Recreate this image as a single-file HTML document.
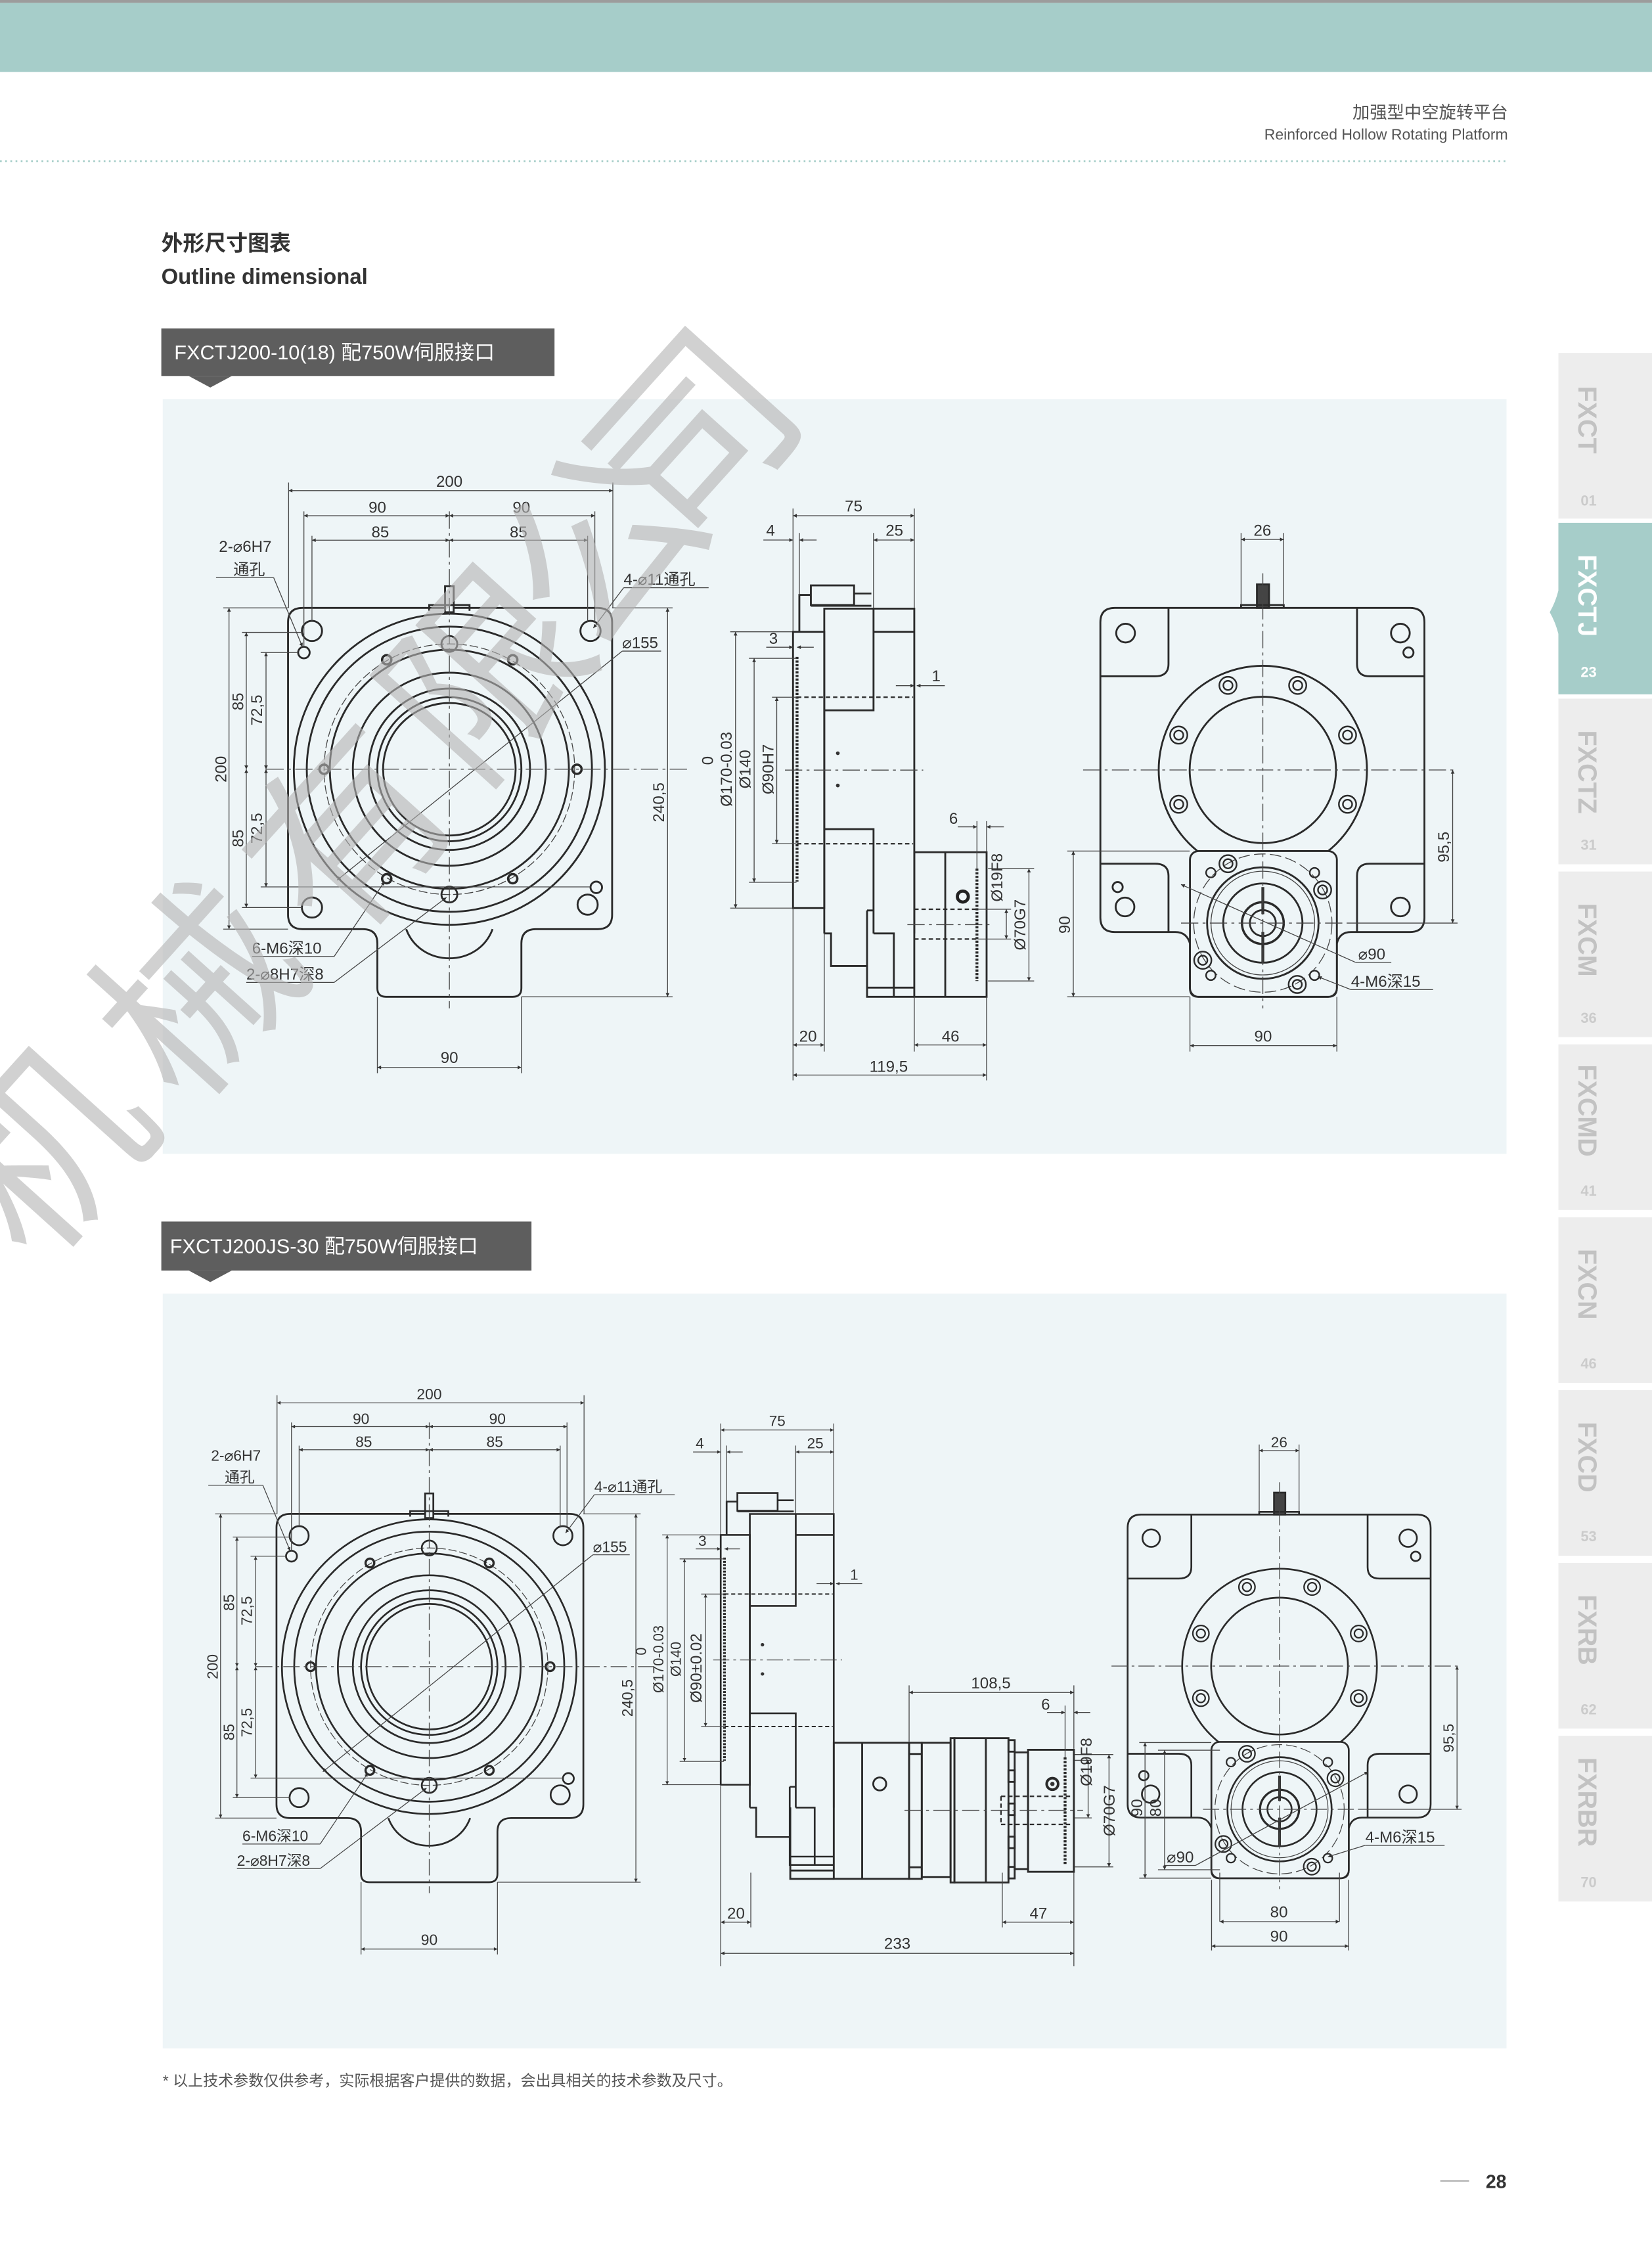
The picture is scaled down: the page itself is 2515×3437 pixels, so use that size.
<!DOCTYPE html>
<html><head><meta charset="utf-8"><style>
html,body{margin:0;padding:0;background:#fff}
svg{display:block}
.o{stroke:#2a2a2a;stroke-width:1.3;fill:none}
.f{stroke:#2a2a2a;stroke-width:1.3;fill:#eef5f7}
.t{stroke:#454545;stroke-width:0.6;fill:none}
.d{stroke:#454545;stroke-width:0.6;fill:none;marker-start:url(#a);marker-end:url(#a)}
.e{stroke:#454545;stroke-width:0.6;fill:none;marker-end:url(#a)}
.c{stroke:#454545;stroke-width:0.6;fill:none;stroke-dasharray:12 3 2 3}
.h{stroke:#2a2a2a;stroke-width:1;fill:none;stroke-dasharray:3 2}
.hb{stroke:#2a2a2a;stroke-width:2;fill:none;stroke-dasharray:1.5 1}
text{font-family:"Liberation Sans","Noto Sans CJK SC",sans-serif}
.l{font-size:11px;fill:#333}
.m{text-anchor:middle}
</style></head><body>
<svg width="2515" height="3437" viewBox="0 0 1147 1567.5" xmlns="http://www.w3.org/2000/svg">
<defs>
<marker id="a" viewBox="0 0 10 10" refX="10" refY="5" markerUnits="userSpaceOnUse" markerWidth="6" markerHeight="2.6" orient="auto-start-reverse"><path d="M0,0 L10,5 L0,10 z" fill="#333"/></marker>
</defs>
<rect x="0" y="0" width="1147" height="1567.5" fill="#fff"/>
<rect x="0" y="0" width="1147" height="2" fill="#9c9c9c"/>
<rect x="0" y="2" width="1147" height="48" fill="#a6cdc9"/>
<text x="1047" y="82" font-size="12" fill="#555" text-anchor="end">加强型中空旋转平台</text>
<text x="1047" y="97" font-size="10.5" fill="#555" text-anchor="end">Reinforced Hollow Rotating Platform</text>
<line x1="0" y1="112" x2="1047" y2="112" stroke="#a8cfca" stroke-width="1.3" stroke-dasharray="1.2 2.4"/>
<text x="112" y="174" font-size="15" fill="#333" font-weight="bold">外形尺寸图表</text>
<text x="112" y="197" font-size="15" fill="#333" font-weight="bold">Outline dimensional</text>

<rect x="112" y="228" width="273" height="33" fill="#5e5e5e"/>
<path d="M131,261 L161,261 L146,269 Z" fill="#5e5e5e"/>
<text x="121" y="249.5" font-size="14" fill="#fff">FXCTJ200-10(18) 配750W伺服接口</text>
<rect x="113" y="277" width="933" height="524" fill="#eef5f7"/>

<rect x="112" y="848" width="257" height="34" fill="#5e5e5e"/>
<path d="M131,882 L161,882 L146,890 Z" fill="#5e5e5e"/>
<text x="118" y="870" font-size="14" fill="#fff">FXCTJ200JS-30 配750W伺服接口</text>
<rect x="113" y="898" width="933" height="524" fill="#eef5f7"/>

<g id="tv">
<path class="o" d="M210,422 H415 Q425,422 425,432 V635 Q425,645 415,645 H372 Q362,645 362,655 V686 Q362,692 356,692 H268 Q262,692 262,686 V655 Q262,645 252,645 H210 Q200,645 200,635 V432 Q200,422 210,422 Z"/>
<path class="o" d="M282,645 C292,672 332,672 342,645"/>
<circle class="o" cx="312" cy="534" r="108"/>
<circle class="o" cx="312" cy="534" r="99"/>
<circle class="c" cx="312" cy="534" r="87" style="stroke-dasharray:6 2"/>
<circle class="o" cx="312" cy="534" r="83"/>
<circle class="o" cx="312" cy="534" r="67"/>
<circle class="o" cx="312" cy="534" r="56"/>
<circle class="o" cx="312" cy="534" r="50"/>
<circle class="o" cx="312" cy="534" r="46"/>
<circle class="o" cx="216.6" cy="438" r="7"/><circle class="o" cx="410" cy="438" r="7"/>
<circle class="o" cx="216.6" cy="630" r="7"/><circle class="o" cx="408" cy="628" r="7"/>
<circle class="o" cx="211" cy="453" r="4"/><circle class="o" cx="414" cy="616" r="4"/>
<g class="o" style="stroke-width:1.6">
<circle cx="268.5" cy="458" r="3.2"/><circle cx="356" cy="458" r="3.2"/><circle cx="225" cy="534" r="3.2"/><circle cx="400.6" cy="534" r="3.2"/><circle cx="268.5" cy="610" r="3.2"/><circle cx="356" cy="610" r="3.2"/>
</g>
<circle class="o" cx="312" cy="447" r="5.5"/><circle class="o" cx="312" cy="621" r="5.5"/>
<rect class="o" x="309" y="407" width="6" height="18" style="fill:#eef5f7"/>
<path class="o" d="M298,424 V420 H326 V424"/>
<line class="c" x1="185" y1="534" x2="477" y2="534"/>
<line class="c" x1="312" y1="355" x2="312" y2="700"/>
<path class="t" d="M200.4,335 V422 M425.5,335 V422 M211,355 V449 M216.6,372 V431 M413,355 V432 M408,372 V432"/>
<line class="d" x1="200.4" y1="340.6" x2="425.5" y2="340.6"/>
<line class="d" x1="211" y1="358" x2="312" y2="358"/><line class="d" x1="312" y1="358" x2="413" y2="358"/>
<line class="d" x1="216.6" y1="375" x2="312" y2="375"/><line class="d" x1="312" y1="375" x2="408" y2="375"/>
<text class="l m" x="312" y="338">200</text>
<text class="l m" x="262" y="356">90</text><text class="l m" x="362" y="356">90</text>
<text class="l m" x="264" y="373">85</text><text class="l m" x="360" y="373">85</text>
<path class="t" d="M155,422 H200 M155,645 H200 M168,439 H210 M168,630 H210 M181,453 H207 M181,615.7 H410 M425,422 H467 M362,692 H467"/>
<line class="d" x1="159" y1="422" x2="159" y2="645"/>
<line class="d" x1="171" y1="439" x2="171" y2="534"/><line class="d" x1="171" y1="534" x2="171" y2="630"/>
<line class="d" x1="184.7" y1="453" x2="184.7" y2="534"/><line class="d" x1="184.7" y1="534" x2="184.7" y2="615.7"/>
<line class="d" x1="463.5" y1="422" x2="463.5" y2="692"/>
<text class="l m" transform="translate(157,534) rotate(-90)">200</text>
<text class="l m" transform="translate(169,487) rotate(-90)">85</text>
<text class="l m" transform="translate(169,582) rotate(-90)">85</text>
<text class="l m" transform="translate(182,493) rotate(-90)">72,5</text>
<text class="l m" transform="translate(182,575) rotate(-90)">72,5</text>
<text class="l m" transform="translate(461,557) rotate(-90)">240,5</text>
<path class="t" d="M262,692 V745 M362,692 V745"/>
<line class="d" x1="262" y1="741" x2="362" y2="741"/>
<text class="l m" x="312" y="738">90</text>
<text class="l" x="152" y="383">2-⌀6H7</text>
<text class="l" x="162" y="399">通孔</text>
<path class="t" d="M150,401 H190"/><line class="e" x1="190" y1="401" x2="210" y2="449"/>
<text class="l" x="433" y="406">4-⌀11通孔</text>
<path class="t" d="M433,408 H492"/><line class="e" x1="433" y1="408" x2="412" y2="436"/>
<text class="l" x="432" y="450">⌀155</text>
<path class="t" d="M432,452 H459"/><line class="e" x1="432" y1="452" x2="234" y2="611"/>
<text class="l" x="175" y="662">6-M6深10</text>
<path class="t" d="M175,664 H232"/><line class="e" x1="232" y1="664" x2="267" y2="612"/>
<text class="l" x="171" y="680">2-⌀8H7深8</text>
<path class="t" d="M171,682 H232"/><line class="e" x1="232" y1="682" x2="310" y2="623"/>
</g>

<g id="sb">
<rect class="o" x="550.6" y="438.6" width="21.7" height="191.8"/>
<path class="o" d="M572.3,648 V422.5 H634.8 V648"/>
<path class="o" d="M606.5,422.5 V493.1 H572.3 M606.5,438.6 H634.8 M572.3,575.6 H606.5 V648 M572.3,648 H577 V670.6 H602 M602,632 H606.5 M602,632 V692 H634.8 M606.5,648 H620.6 V692 M602,685.6 H634.8"/>
<path class="o" d="M555,438.6 V413 H563 M563,406.4 H593 V420 H563 Z M593,412 H605 M563,420.5 H605"/>
<path class="h" d="M553.4,484 H634 M553.4,585.7 H634"/>
<line class="hb" x1="553.4" y1="456" x2="553.4" y2="612"/>
<line class="c" x1="545" y1="534.6" x2="641" y2="534.6"/>
<circle cx="581.7" cy="522.9" r="1.3" fill="#333"/><circle cx="581.7" cy="545.3" r="1.3" fill="#333"/>
<path class="t" d="M550.6,353 V438 M634.8,353 V422 M555,370 V413 M606.5,370 V422 M507,438.6 H550 M520,457 H553 M536,484 H553 M520,612.5 H553 M536,585.7 H553 M507,630.4 H550"/>
<line class="d" x1="550.6" y1="358" x2="634.8" y2="358"/>
<line class="e" x1="530" y1="374.9" x2="550.6" y2="374.9"/><line class="e" x1="567" y1="374.9" x2="555" y2="374.9"/>
<line class="d" x1="606.5" y1="374.9" x2="634.8" y2="374.9"/>
<line class="e" x1="532" y1="449.3" x2="550.6" y2="449.3"/><line class="e" x1="565" y1="449.3" x2="553.4" y2="449.3"/>
<line class="e" x1="622" y1="476" x2="634.8" y2="476"/><line class="e" x1="656" y1="476" x2="636.5" y2="476"/>
<line class="d" x1="510.7" y1="438.6" x2="510.7" y2="630.4"/>
<line class="d" x1="523.6" y1="457" x2="523.6" y2="612.5"/>
<line class="d" x1="539.3" y1="484" x2="539.3" y2="585.7"/>
<text class="l m" x="592.7" y="355">75</text>
<text class="l m" x="535" y="372">4</text>
<text class="l m" x="621" y="372">25</text>
<text class="l m" x="537" y="447">3</text>
<text class="l m" x="650" y="473">1</text>
<text class="l m" transform="translate(508,534) rotate(-90)">Ø170-0.03</text>
<text class="l m" transform="translate(495,528) rotate(-90)">0</text>
<text class="l m" transform="translate(521,534) rotate(-90)">Ø140</text>
</g>
<text class="l m" transform="translate(537,534) rotate(-90)">Ø90H7</text>
<rect class="o" x="634.8" y="591.6" width="50.2" height="100.4"/>
<line class="o" x1="656.3" y1="591.6" x2="656.3" y2="692"/>
<line class="hb" x1="678.3" y1="603" x2="678.3" y2="681"/>
<path class="h" d="M634.8,631.2 H678 M634.8,651.9 H678"/>
<line class="c" x1="630" y1="641.9" x2="690" y2="641.9"/>
<circle cx="668.5" cy="622.4" r="3.8" fill="none" stroke="#222" stroke-width="2.2"/>
<path class="t" d="M550.6,630 V750 M572.3,648 V730 M678.3,570 V603 M685,570 V591 M679,631.2 H702 M679,651.9 H702 M686,603 H718 M686,681 H718 M634.8,692 V730 M685,692 V750"/>
<line class="e" x1="665" y1="574" x2="678.3" y2="574"/><line class="e" x1="697" y1="574" x2="685" y2="574"/>
<text class="l m" x="662" y="572">6</text>
<line class="d" x1="698.7" y1="631.2" x2="698.7" y2="651.9"/>
<text class="l" transform="translate(696,626) rotate(-90)">Ø19F8</text>
<line class="d" x1="714.4" y1="603" x2="714.4" y2="681"/>
<text class="l m" transform="translate(712,642) rotate(-90)">Ø70G7</text>
<line class="d" x1="550.6" y1="725.4" x2="572.3" y2="725.4"/>
<text class="l m" x="561" y="723">20</text>
<line class="d" x1="634.8" y1="725.4" x2="685" y2="725.4"/>
<text class="l m" x="660" y="723">46</text>
<line class="d" x1="550.6" y1="746.3" x2="685" y2="746.3"/>
<text class="l m" x="617" y="744">119,5</text>

<g id="rv">
<path class="o" d="M774,422 H979 Q989,422 989,432 V637 Q989,647 979,647 H938 Q930,647 928.2,655 V686 Q928.2,692 922,692 H832 Q826.2,692 826.2,686 V655 Q824,647 816,647 H774 Q764,647 764,637 V432 Q764,422 774,422 Z"/>
<path class="o" d="M811.3,422 V461 Q811.3,469.5 802,469.5 H764 M942.2,422 V461 Q942.2,469.5 951,469.5 H989 M764,599.6 H802 Q811.3,599.6 811.3,608 V647 M989,599.6 H951 Q942.2,599.6 942.2,608 V647"/>
<circle class="o" cx="781.5" cy="439.5" r="6.5"/><circle class="o" cx="972.3" cy="439.5" r="6.5"/>
<circle class="o" cx="977.9" cy="453" r="3.5"/><circle class="o" cx="776" cy="615.8" r="3.5"/>
<circle class="o" cx="781.1" cy="629.6" r="6.5"/><circle class="o" cx="972.3" cy="629.6" r="6.5"/>
<circle class="o" cx="876.8" cy="534.5" r="72.3"/>
<circle class="o" cx="876.8" cy="534.5" r="50.8"/>
<g class="o" style="stroke-width:1.1">
<circle cx="852.6" cy="475.8" r="6"/><circle cx="852.6" cy="475.8" r="3.2"/>
<circle cx="901" cy="475.8" r="6"/><circle cx="901" cy="475.8" r="3.2"/>
<circle cx="818.4" cy="510.3" r="6"/><circle cx="818.4" cy="510.3" r="3.2"/>
<circle cx="935.6" cy="510.3" r="6"/><circle cx="935.6" cy="510.3" r="3.2"/>
<circle cx="818.4" cy="558.3" r="6"/><circle cx="818.4" cy="558.3" r="3.2"/>
<circle cx="935.6" cy="558.3" r="6"/><circle cx="935.6" cy="558.3" r="3.2"/>
</g>
<rect class="f" x="826.2" y="590.8" width="102" height="101.2" rx="6"/>
<circle class="t" cx="876.8" cy="640.8" r="48" style="stroke-dasharray:8 3"/>
<circle class="o" cx="876.8" cy="640.8" r="38.7"/>
<circle class="t" cx="876.8" cy="640.8" r="36"/>
<circle class="o" cx="876.8" cy="640.8" r="27.5"/>
<circle class="o" cx="876.8" cy="640.8" r="14.5" style="stroke-width:1.6"/>
<circle class="o" cx="876.8" cy="640.8" r="9"/>
<rect x="875.8" y="615.8" width="2" height="18.8" fill="#333"/><rect x="875.8" y="647" width="2" height="21.4" fill="#333"/>
<g class="o" style="stroke-width:1.1">
<circle cx="852.6" cy="599.6" r="6"/><circle cx="852.6" cy="599.6" r="3.2"/>
<circle cx="918.3" cy="617.8" r="6"/><circle cx="918.3" cy="617.8" r="3.2"/>
<circle cx="835.1" cy="666.6" r="6"/><circle cx="835.1" cy="666.6" r="3.2"/>
<circle cx="900.7" cy="683.4" r="6"/><circle cx="900.7" cy="683.4" r="3.2"/>
<circle cx="840.7" cy="605.8" r="3.3"/><circle cx="912.7" cy="605.8" r="3.3"/>
<circle cx="840.7" cy="677.1" r="3.3"/><circle cx="912.7" cy="677.1" r="3.3"/>
</g>
<rect class="o" x="872.7" y="405.7" width="8.4" height="16.3" style="fill:#444"/>
<path class="o" d="M861.7,422 V420 H891.3 V422"/>
<line class="c" x1="876.8" y1="398" x2="876.8" y2="700"/>
<line class="c" x1="752" y1="534.5" x2="1010" y2="534.5"/>
<line class="c" x1="820" y1="640.8" x2="935" y2="640.8"/>
<path class="t" d="M861.7,370 V420 M891.3,370 V420 M935,640.8 H1012"/>
<line class="d" x1="861.7" y1="374.5" x2="891.3" y2="374.5"/>
<text class="l m" x="876.5" y="372">26</text>
<line class="d" x1="1008.6" y1="534.5" x2="1008.6" y2="640.8"/>
<text class="l m" transform="translate(1006,588) rotate(-90)">95,5</text>
</g>
<path class="t" d="M741,590.8 H826 M741,692 H826 M826.2,692 V730 M928.2,692 V730"/>
<line class="d" x1="745.2" y1="590.8" x2="745.2" y2="692"/>
<text class="l m" transform="translate(743,642) rotate(-90)">90</text>
<line class="d" x1="826.2" y1="725.9" x2="928.2" y2="725.9"/>
<text class="l m" x="877" y="723">90</text>
<text class="l" x="943" y="666">⌀90</text>
<path class="t" d="M941,668 H966"/><line class="e" x1="941" y1="668" x2="820" y2="614"/>
<text class="l" x="938" y="685">4-M6深15</text>
<path class="t" d="M938,687 H995"/><line class="e" x1="938" y1="687" x2="915" y2="678"/>

<use href="#tv" transform="translate(298.5,1157) scale(0.947) translate(-312.5,-534)"/>
<use href="#sb" transform="translate(500.4,1051) scale(0.932,0.904) translate(-550.6,-422.5)"/>
<text class="l m" transform="translate(487,1158) rotate(-90)">Ø90±0.02</text>
<rect class="o" x="578.9" y="1209.8" width="52.3" height="94.5"/>
<line class="o" x1="598.6" y1="1209.8" x2="598.6" y2="1304.3"/>
<path class="o" d="M548.7,1254.7 V1304.3 H578.9 M548.7,1298.5 H578.9"/>
<rect class="o" x="631.2" y="1209.8" width="8.8" height="94.5"/>
<path class="o" d="M631.2,1217.6 H640 M631.2,1296.3 H640"/>
<rect class="o" x="640" y="1209.8" width="20" height="93.3"/>
<rect class="o" x="660" y="1206.6" width="2.7" height="100.2"/>
<rect class="o" x="662.7" y="1206.6" width="37.5" height="100.2"/>
<line class="o" x1="684.5" y1="1206.6" x2="684.5" y2="1306.8"/>
<g class="o"><rect x="700.2" y="1208" width="4.3" height="8"/><rect x="700.2" y="1229" width="4.3" height="8"/><rect x="700.2" y="1252" width="4.3" height="8"/><rect x="700.2" y="1275" width="4.3" height="8"/><rect x="700.2" y="1296" width="4.3" height="8"/></g>
<rect class="o" x="704.5" y="1216.5" width="9.3" height="81"/>
<rect class="o" x="713.8" y="1214.7" width="31.8" height="84.7"/>
<line class="hb" x1="739.5" y1="1220" x2="739.5" y2="1295"/>
<path class="h" d="M695,1247 H745 M695,1266.5 H745 M695,1247 V1266.5"/>
<circle class="o" cx="610.8" cy="1238.4" r="4.5"/>
<circle class="o" cx="730.7" cy="1238.4" r="4" style="stroke-width:1.8"/><circle cx="730.7" cy="1238.4" r="1.5" fill="#333"/>
<line class="c" x1="628" y1="1256.7" x2="752" y2="1256.7"/>
<path class="t" d="M631.2,1170 V1209 M745.6,1170 V1214 M739.5,1184 V1220 M500.4,1240 V1365 M521.3,1300 V1338 M695.9,1300 V1338 M745.6,1300 V1365 M746,1222 H758 M746,1262 H758 M746,1218 H773 M746,1296 H773"/>
<line class="d" x1="631.2" y1="1174.9" x2="745.6" y2="1174.9"/>
<text class="l m" x="688" y="1172">108,5</text>
<line class="e" x1="727" y1="1188.8" x2="739.5" y2="1188.8"/><line class="e" x1="757" y1="1188.8" x2="745.6" y2="1188.8"/>
<text class="l m" x="726" y="1187">6</text>
<line class="d" x1="755.5" y1="1222" x2="755.5" y2="1262"/>
<text class="l" transform="translate(758,1240) rotate(-90)">Ø19F8</text>
<line class="d" x1="770" y1="1218" x2="770" y2="1296"/>
<text class="l m" transform="translate(774,1257) rotate(-90)">Ø70G7</text>
<line class="d" x1="500.4" y1="1334.4" x2="521.3" y2="1334.4"/>
<text class="l m" x="511" y="1332">20</text>
<line class="d" x1="695.9" y1="1334.4" x2="745.6" y2="1334.4"/>
<text class="l m" x="721" y="1332">47</text>
<line class="d" x1="500.4" y1="1356" x2="745.6" y2="1356"/>
<text class="l m" x="623" y="1353">233</text>
<use href="#rv" transform="translate(888.4,1156.6) scale(0.935) translate(-876.8,-534.5)"/>
<path class="t" d="M791,1209.7 H841 M804,1215 H847 M791,1303.8 H841 M804,1298 H847 M841.2,1305 V1354 M936.4,1305 V1354 M846.9,1300 V1334 M930,1300 V1334"/>
<line class="d" x1="795" y1="1209.7" x2="795" y2="1303.8"/>
<line class="d" x1="808.6" y1="1215" x2="808.6" y2="1298"/>
<text class="l m" transform="translate(793,1255) rotate(-90)">90</text>
<text class="l m" transform="translate(806,1255) rotate(-90)">80</text>
<line class="d" x1="846.9" y1="1334" x2="930" y2="1334"/>
<text class="l m" x="888" y="1331">80</text>
<line class="d" x1="841.2" y1="1351" x2="936.4" y2="1351"/>
<text class="l m" x="888" y="1348">90</text>
<text class="l" x="810" y="1293">⌀90</text>
<path class="t" d="M808,1295 H830"/><line class="e" x1="830" y1="1295" x2="950" y2="1230"/>
<text class="l" x="948" y="1279">4-M6深15</text>
<path class="t" d="M948,1281 H1003"/><line class="e" x1="948" y1="1281" x2="922" y2="1289"/>

<g fill="#b4b4b4" opacity="0.6" font-size="135" text-anchor="middle" font-family="Noto Sans CJK SC, sans-serif">
<text transform="translate(35,800) rotate(-48)" dy="45">机</text>
<text transform="translate(140,690) rotate(-48)" dy="45">械</text>
<text transform="translate(245,580) rotate(-48)" dy="45">有</text>
<text transform="translate(340,470) rotate(-48)" dy="45">限</text>
<text transform="translate(420,380) rotate(-48)" dy="45">公</text>
<text transform="translate(485,305) rotate(-48)" dy="45">司</text>
</g>

<text x="113" y="1448" font-size="10.5" fill="#555">*  以上技术参数仅供参考，实际根据客户提供的数据，会出具相关的技术参数及尺寸。</text>
<line x1="1000" y1="1514" x2="1020" y2="1514" stroke="#999" stroke-width="0.8"/>
<text x="1046" y="1519" font-size="13" font-weight="bold" fill="#333" text-anchor="end">28</text>

<g font-family="Liberation Sans, sans-serif" font-weight="bold">
<rect x="1082" y="245" width="65" height="115" fill="#ededed"/>
<text transform="translate(1096,268) rotate(90)" font-size="18" fill="#c2c2c2">FXCT</text>
<text x="1103" y="351" font-size="10" fill="#cbcbcb" text-anchor="middle">01</text>
<path d="M1082,363 H1147 V482 H1082 V440 Q1080,432 1076,425 Q1080,418 1082,410 Z" fill="#a6cdc9"/>
<text transform="translate(1096,385) rotate(90)" font-size="18" fill="#fff">FXCTJ</text>
<text x="1103" y="470" font-size="10" fill="#fff" text-anchor="middle">23</text>
<rect x="1082" y="485" width="65" height="115" fill="#ededed"/>
<text transform="translate(1096,507) rotate(90)" font-size="18" fill="#c2c2c2">FXCTZ</text>
<text x="1103" y="590" font-size="10" fill="#cbcbcb" text-anchor="middle">31</text>
<rect x="1082" y="605" width="65" height="115" fill="#ededed"/>
<text transform="translate(1096,627) rotate(90)" font-size="18" fill="#c2c2c2">FXCM</text>
<text x="1103" y="710" font-size="10" fill="#cbcbcb" text-anchor="middle">36</text>
<rect x="1082" y="725" width="65" height="115" fill="#ededed"/>
<text transform="translate(1096,739) rotate(90)" font-size="18" fill="#c2c2c2">FXCMD</text>
<text x="1103" y="830" font-size="10" fill="#cbcbcb" text-anchor="middle">41</text>
<rect x="1082" y="845" width="65" height="115" fill="#ededed"/>
<text transform="translate(1096,867) rotate(90)" font-size="18" fill="#c2c2c2">FXCN</text>
<text x="1103" y="950" font-size="10" fill="#cbcbcb" text-anchor="middle">46</text>
<rect x="1082" y="965" width="65" height="115" fill="#ededed"/>
<text transform="translate(1096,987) rotate(90)" font-size="18" fill="#c2c2c2">FXCD</text>
<text x="1103" y="1070" font-size="10" fill="#cbcbcb" text-anchor="middle">53</text>
<rect x="1082" y="1085" width="65" height="115" fill="#ededed"/>
<text transform="translate(1096,1107) rotate(90)" font-size="18" fill="#c2c2c2">FXRB</text>
<text x="1103" y="1190" font-size="10" fill="#cbcbcb" text-anchor="middle">62</text>
<rect x="1082" y="1205" width="65" height="115" fill="#ededed"/>
<text transform="translate(1096,1220) rotate(90)" font-size="18" fill="#c2c2c2">FXRBR</text>
<text x="1103" y="1310" font-size="10" fill="#cbcbcb" text-anchor="middle">70</text>
</g>
</svg>
</body></html>
